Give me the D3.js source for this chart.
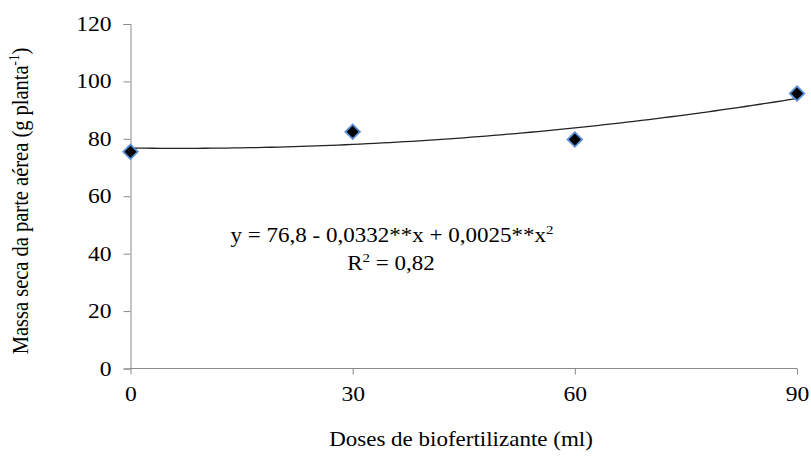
<!DOCTYPE html>
<html><head><meta charset="utf-8">
<script src="https://cdn.jsdelivr.net/npm/d3@7"></script>
<style>body{margin:0;background:#fff}</style>
</head><body><svg id="c" width="811" height="457"></svg>
<script>
const doses = [0, 30, 60, 90];
const massa = [75.5, 82.5, 79.8, 95.8];
const yTicks = [0, 20, 40, 60, 80, 100, 120];
const xTicks = [0, 30, 60, 90];
const trendCoef = [76.8, -0.0332, 0.0025];

const FONT = "'Liberation Serif'";
const K = 1.15; // horizontal stretch of the original picture
const svg = d3.select("#c");
const x = d3.scaleLinear().domain([0, 90]).range([130.5, 797]);
const y = d3.scaleLinear().domain([0, 120]).range([368.5, 24]);

const gy = svg.append("g").attr("transform", "translate(130.5,0)")
  .call(d3.axisLeft(y).tickValues(yTicks).tickSize(7).tickPadding(12));
const gx = svg.append("g").attr("transform", "translate(0,368.5)")
  .call(d3.axisBottom(x).tickValues(xTicks).tickSize(6).tickPadding(12));
[gy, gx].forEach(g => {
  g.attr("font-size", 20.5);
  g.select(".domain").attr("stroke", "#898989");
  g.selectAll(".tick line").attr("stroke", "#898989");
  g.selectAll(".tick text").attr("fill", "#000");
});
gx.select(".domain").attr("d", "M130.5,0H797");

const xs = d3.range(0, 90.01, 1);
const line = d3.line().x(d => x(d)).y(d => y(trendCoef[0] + trendCoef[1]*d + trendCoef[2]*d*d));
svg.append("path").datum(xs).attr("d", line).attr("fill", "none").attr("stroke", "#222").attr("stroke-width", 1.3);

svg.selectAll(".pt").data(doses).enter().append("path")
  .attr("d", d3.symbol().type(d3.symbolSquare).size(105))
  .attr("transform", (d, i) => `translate(${x(d)},${y(massa[i])}) rotate(45)`)
  .attr("fill", "#000").attr("stroke", "#5b8fd6").attr("stroke-width", 1.8);

const eq = svg.append("text").attr("class", "h").attr("x", 392).attr("y", 242).attr("text-anchor", "middle").attr("font-size", 20);
eq.append("tspan").text("y = 76,8 - 0,0332**x + 0,0025**x");
eq.append("tspan").text("2").attr("font-size", 13).attr("dy", -8);
const r2 = svg.append("text").attr("class", "h").attr("x", 391).attr("y", 270).attr("text-anchor", "middle").attr("font-size", 20);
r2.append("tspan").text("R");
r2.append("tspan").text("2").attr("font-size", 13).attr("dy", -8);
r2.append("tspan").text(" = 0,82").attr("dy", 8);

svg.append("text").attr("class", "h").attr("x", 461).attr("y", 446).attr("text-anchor", "middle").attr("font-size", 20)
  .text("Doses de biofertilizante (ml)");
const yt = svg.append("text").attr("transform", "translate(28,201) rotate(-90) scale(1,1.1)").attr("text-anchor", "middle").attr("font-size", 20.5);
yt.append("tspan").text("Massa seca da parte aérea (g planta");
yt.append("tspan").text("-1").attr("font-size", 13).attr("dy", -8);
yt.append("tspan").text(")").attr("dy", 8);

svg.selectAll("text").attr("font-family", FONT);
// horizontal stretch around each text's anchor
svg.selectAll("text.h, .tick text").each(function() {
  const t = d3.select(this);
  const ax = +t.attr("x") || 0;
  t.attr("transform", `translate(${ax},0) scale(${K},1) translate(${-ax},0)`);
});
</script></body></html>
